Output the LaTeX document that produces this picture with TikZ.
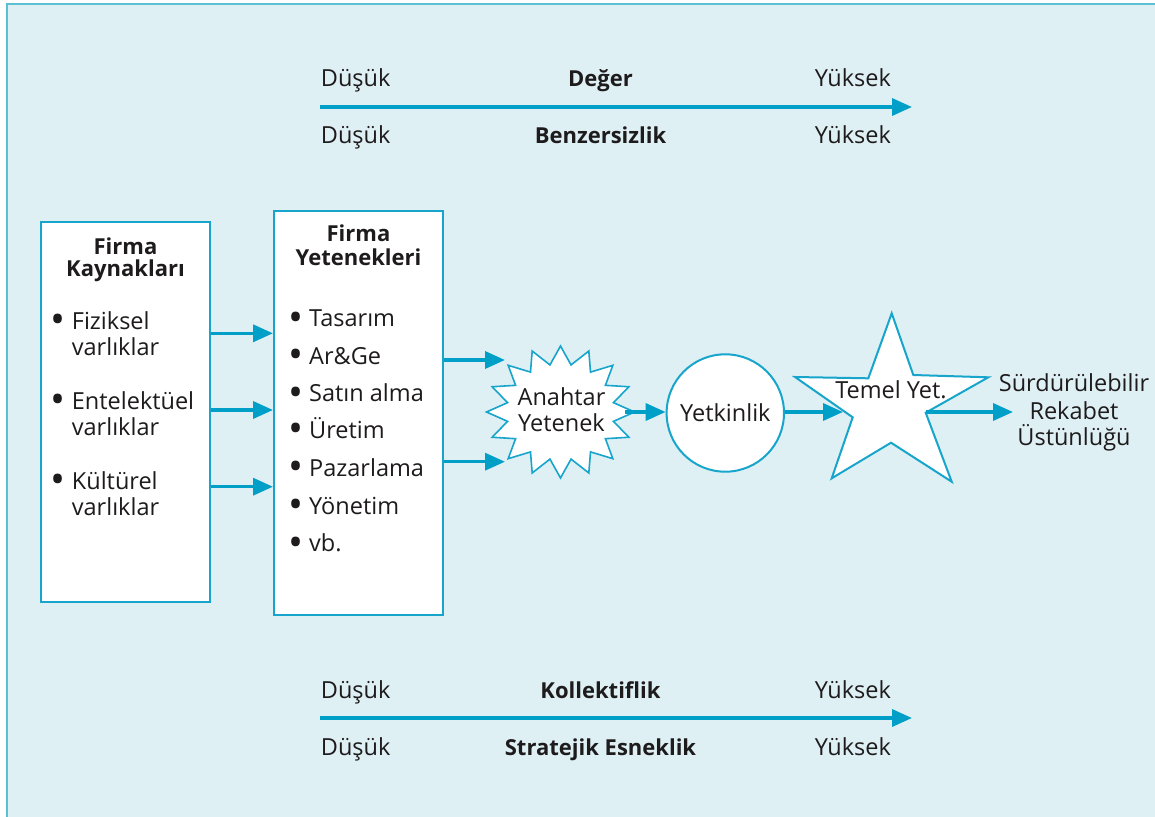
\documentclass[tikz,border=0pt]{standalone}
\usepackage{fontspec}
\usepackage{graphicx}
\setmainfont{Open Sans}
\usetikzlibrary{arrows.meta}
\definecolor{paper}{HTML}{DFF0F5}
\definecolor{frame}{HTML}{5CC0D4}
\definecolor{flow}{HTML}{009FC7}
\definecolor{edge}{HTML}{17A5CB}
\definecolor{ink}{HTML}{1E1B1C}
\newcommand\txtsize{\fontsize{23.5}{26}\selectfont}
\newcommand\boldsize{\fontsize{22}{24}\selectfont\bfseries}
\newcommand\bigdot{\raisebox{-4.5pt}{\scalebox{1.7}{•}}}
\begin{document}
\begin{tikzpicture}[x=1pt,y=-1pt,
  lbl/.style={inner sep=0, text=ink, font=\txtsize},
  lblb/.style={inner sep=0, text=ink, font=\boldsize},
  box/.style={draw=edge, line width=2, fill=white, inner sep=0},
  outline/.style={draw=edge, line width=1.6, fill=white, line join=miter},
  flowarrow/.style={draw=flow, line width=3.5, -{Triangle[length=20pt,width=17pt]}},
  bul/.style={inner sep=0, text=ink, font=\txtsize, anchor=base}]
\useasboundingbox (0,0) rectangle (1155,816);
% panel
\fill[paper] (7,4) rectangle (1160,820);
\draw[frame, line width=2] (7,820) -- (7,4) -- (1160,4);

% scales on top
\node[lbl, anchor=base west] (lowA) at (320.7,86) {Düşük};
\node[lblb, anchor=base] (deger) at (600.5,86) {Değer};
\node[lbl, anchor=base east] (highA) at (891,86) {Yüksek};
\coordinate (topS) at (320,107);
\coordinate (topE) at (912,107);
\draw[flowarrow] (topS) -- (topE);
\node[lbl, anchor=base west] (lowB) at (320.7,143.3) {Düşük};
\node[lblb, anchor=base] (benz) at (600.5,143.3) {Benzersizlik};
\node[lbl, anchor=base east] (highB) at (891,143.3) {Yüksek};

% scales at the bottom
\node[lbl, anchor=base west] (lowC) at (320.7,698) {Düşük};
\node[lblb, anchor=base] (koll) at (600.5,698) {Kollektiflik};
\node[lbl, anchor=base east] (highC) at (891,698) {Yüksek};
\coordinate (botS) at (320,718);
\coordinate (botE) at (912,718);
\draw[flowarrow] (botS) -- (botE);
\node[lbl, anchor=base west] (lowD) at (320.7,755) {Düşük};
\node[lblb, anchor=base] (strat) at (600.5,755) {Stratejik Esneklik};
\node[lbl, anchor=base east] (highD) at (891,755) {Yüksek};

% resources box
\node[box, minimum width=169, minimum height=380] (b1) at (125.5,411.8) {};
\node[lblb, anchor=base] (b1t1) at (125.5,254.3) {Firma};
\node[lblb, anchor=base] (b1t2) at (125.5,276.7) {Kaynakları};
\foreach \n/\w/\y in {1/Fiziksel/329, 2/Entelektüel/409.3, 3/Kültürel/489.3}{
  \node[bul] (b1d\n) at (58.5,\y) {\bigdot};
  \node[lbl, anchor=base west] (b1a\n) at (71.7,\y) {\w};
  \node[lbl, anchor=base west] (b1b\n) at (71.7,\y+26.3) {varlıklar};
}

% capabilities box
\node[box, minimum width=169, minimum height=404] (b2) at (358.5,412.8) {};
\node[lblb, anchor=base] (b2t1) at (358.5,241.7) {Firma};
\node[lblb, anchor=base] (b2t2) at (358.5,265) {Yetenekleri};
\foreach \n/\w/\y in {1/Tasarım/326.7, 2/Ar\&Ge/364.3, 3/Satın alma/401.7,
                      4/Üretim/438.3, 5/Pazarlama/476, 6/Yönetim/514.3, 7/vb./551.7}{
  \node[bul] (b2d\n) at (296,\y) {\bigdot};
  \node[lbl, anchor=base west] (b2a\n) at (309,\y) {\w};
}

% arrows between the boxes
\foreach \y in {333.3, 410, 486.7}{
  \draw[flowarrow] (b1.east |- 0,\y) -- (b2.west |- 0,\y);
}

% key capability burst
\draw[outline] plot[samples at={0,...,31}]
  ({560.5+(mod(\x,2)==0 ? 74 : 54)*sin(\x*11.25)},
   {412-(mod(\x,2)==0 ? 66 : 48)*cos(\x*11.25)}) -- cycle;
\node[lbl, anchor=base] (key1) at (561.5,405) {Anahtar};
\node[lbl, anchor=base] (key2) at (561.5,431.7) {Yetenek};
\coordinate (burstA) at (505,360);
\coordinate (burstB) at (505,461.7);
\coordinate (burstE) at (625,412);
\draw[flowarrow] (b2.east |- burstA) -- (burstA);
\draw[flowarrow] (b2.east |- burstB) -- (burstB);

% competence circle
\node[circle, draw=edge, line width=2, fill=white, minimum size=117.4, inner sep=0,
      text=ink, font=\txtsize] (yet) at (725.3,413) {Yetkinlik};
\draw[flowarrow] (burstE) -- (yet.west |- burstE);

% core competence star
\draw[outline, line width=2] (891.7,313.3) -- (913.3,375) -- (988.3,377.3) -- (925.7,412.7)
  -- (951.7,481.7) -- (891,442.7) -- (831.7,478.3) -- (852.7,417.3)
  -- (795,377) -- (868.3,378.3) -- cycle;
\node[lbl, anchor=base] (core) at (891,398.3) {Temel Yet.};
\coordinate (starW) at (843,412);
\coordinate (starE) at (926,412);
\draw[flowarrow] (yet.east |- starW) -- (starW);

% sustainable advantage
\node[lbl, anchor=base] (sra1) at (1074,391) {Sürdürülebilir};
\node[lbl, anchor=base] (sra2) at (1074,419.3) {Rekabet};
\node[lbl, anchor=base] (sra3) at (1074,445.7) {Üstünlüğü};
\coordinate (sraW) at (1013,412);
\draw[flowarrow] (starE) -- (sraW);
\end{tikzpicture}
\end{document}
